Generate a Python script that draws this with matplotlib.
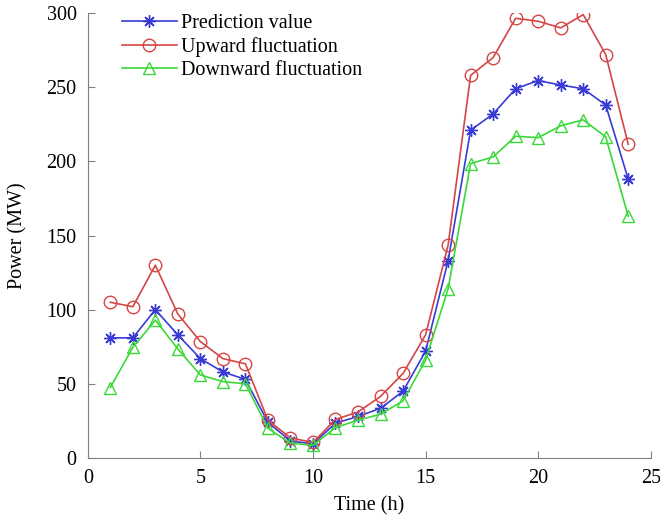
import numpy as np
import matplotlib

matplotlib.use("Agg")
import matplotlib.pyplot as plt

plt.rcParams["font.family"] = ["Liberation Serif", "DejaVu Serif"]

hours = np.arange(1, 25)
prediction = [81, 81, 100, 83, 67, 58, 53, 24, 11.5, 9.5, 23.5, 28,
              33.5, 45, 72, 133, 221, 232, 249, 254.5, 251.5, 249, 238, 188]
upward = [105, 102, 130, 97, 78.5, 67, 63.5, 25.5, 13.5, 10.5, 26, 31,
          41.5, 57, 83, 143.5, 258, 270, 296.5, 294.5, 290, 299, 272, 211.5]
downward = [47.5, 74.5, 93, 73.5, 56, 51.5, 50, 20, 10, 8.5, 20.5, 25.5,
            29.5, 38.5, 66, 114, 198.5, 203, 217, 216, 224, 228, 216.5, 163]

fig = plt.figure(figsize=(6.6, 5.24), dpi=100)
ax = fig.add_axes([0.133, 0.126, 0.853, 0.849])

ax.plot(hours, prediction, color="#3a3ad6", lw=1.2, marker=(8, 2, 0),
        markersize=9, markeredgewidth=1.0, label="Prediction value")
ax.plot(hours, upward, color="#d64545", lw=1.2, marker="o", markersize=9,
        markerfacecolor="none", markeredgewidth=1.0, label="Upward fluctuation")
ax.plot(hours, downward, color="#3ad83a", lw=1.2, marker="^", markersize=9,
        markerfacecolor="none", markeredgewidth=1.0, label="Downward fluctuation")

ax.set_xlim(0, 25)
ax.set_ylim(0, 300)
ax.set_xticks(range(0, 26, 5))
ax.set_yticks(range(0, 301, 50))
for s in ("top", "right"):
    ax.spines[s].set_visible(False)
for s in ("left", "bottom"):
    ax.spines[s].set_color("#808080")
ax.tick_params(direction="in", length=5, color="#808080", labelsize=14.5, pad=8)

ax.set_xlabel("Time (h)", fontsize=14.5, labelpad=6)
ax.set_ylabel("Power (MW)", fontsize=14.5, labelpad=14)

ax.legend(loc="upper left", bbox_to_anchor=(0.047, 1.017), frameon=False,
          fontsize=14.5, handlelength=2.7, handletextpad=0.2, labelspacing=0.2,
          borderaxespad=0)

fig.savefig("out.png", dpi=100)
